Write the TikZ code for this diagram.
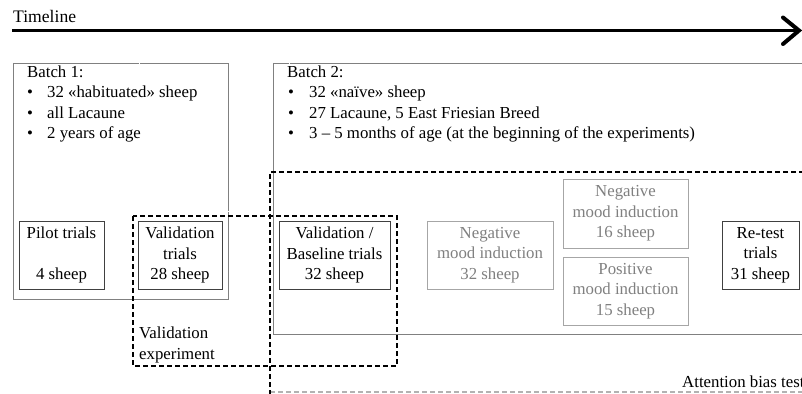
\documentclass[tikz,border=0pt]{standalone}
\usepackage{fontspec}
\setmainfont{Liberation Serif}
\newcommand{\fsz}{\fontsize{16.8}{20.5}\selectfont}
\begin{document}
\begin{tikzpicture}[x=1pt,y=-1pt,
  every node/.style={font=\fsz},
  tbox/.style={draw=black!75, line width=0.9pt, align=center, inner sep=0pt, minimum height=68pt},
  gbox/.style={draw=black!35, line width=0.9pt, align=center, inner sep=0pt, minimum height=68pt, text=black!50},
  ln/.style={anchor=base west, inner sep=0pt},
  framedot/.style={draw=black!50, line width=0.6pt, dash pattern=on 0.5pt off 0.5pt},
  bigdash/.style={draw=black, line width=1.9pt, dash pattern=on 5pt off 3pt},
  lightdash/.style={draw=black!30, line width=1.2pt, dash pattern=on 5pt off 3pt}]
\useasboundingbox (0,0) rectangle (802,393);
\clip (0,0) rectangle (802,393);
\fill[white] (0,0) rectangle (802,393);

% Timeline
\node[ln, font=\fontsize{17.6}{20}\selectfont] (tltext) at (13,23) {Timeline};
\coordinate (tlA) at (12,30.5);
\coordinate (tlB) at (799,30.5);
\coordinate (tlH1) at (783,17.5);
\coordinate (tlH2) at (783,44);
\draw[line width=3.6pt] (tlA) -- (tlB);
\draw[line width=4pt, line cap=round] (tlH1) -- (tlB) -- (tlH2);

% Batch frames
\draw[framedot] (13,63) rectangle (228,299);
\draw[framedot] (273,63) rectangle (812,334);

% Batch 1 text
\node[ln] (b1a) at (27,78) {Batch 1:};
\node[ln] (b1b) at (27,98) {\makebox[20pt][l]{•}32 «habituated» sheep};
\node[ln] (b1c) at (27,118) {\makebox[20pt][l]{•}all Lacaune};
\node[ln] (b1d) at (27,138) {\makebox[20pt][l]{•}2 years of age};

% Batch 2 text
\node[ln] (b2a) at (287,78) {Batch 2:};
\node[ln] (b2b) at (288,98) {\makebox[21pt][l]{•}32 «naïve» sheep};
\node[ln] (b2c) at (288,118) {\makebox[21pt][l]{•}27 Lacaune, 5 East Friesian Breed};
\node[ln] (b2d) at (288,138) {\makebox[21pt][l]{•}3 – 5 months of age (at the beginning of the experiments)};

% Attention bias test frame
\coordinate (atl) at (270,172);
\coordinate (atr) at (812,172);
\coordinate (abl) at (270,395);
\coordinate (abl2) at (270,392);
\coordinate (abr) at (812,392);
\draw[lightdash] (abl2) -- (abr);
\draw[bigdash] (atr) -- (atl) -- (abl);
\node[ln] (att) at (682,387) {Attention bias test};

% Validation experiment frame
\draw[bigdash] (133,216) rectangle (397,366);
\node[anchor=north west, align=left, inner sep=0pt] (valexp) at (139,327) {Validation\\experiment};

% Trial boxes
\node[tbox, minimum width=85pt] (pilot) at (61.5,255) {Pilot trials\\~\\4 sheep};
\node[tbox, minimum width=84pt] (valid) at (180,255) {Validation\\trials\\28 sheep};
\node[tbox, minimum width=111pt] (base) at (334.5,255) {Validation /\\Baseline trials\\32 sheep};
\node[gbox, minimum width=126pt] (neg32) at (490,255) {Negative\\mood induction\\32 sheep};
\node[gbox, minimum width=125pt, minimum height=69pt] (neg16) at (625.5,213.5) {Negative\\mood induction\\16 sheep};
\node[gbox, minimum width=125pt] (pos15) at (625.5,291) {Positive\\mood induction\\15 sheep};
\node[tbox, minimum width=77pt] (retest) at (760.5,255) {Re-test\\trials\\31 sheep};
\end{tikzpicture}
\end{document}
